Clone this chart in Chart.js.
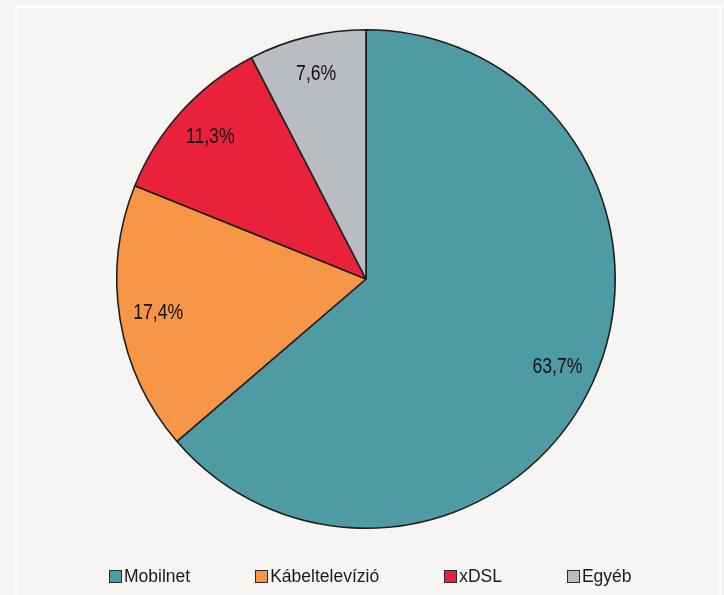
<!DOCTYPE html>
<html>
<head>
<meta charset="utf-8">
<script src="https://cdn.jsdelivr.net/npm/chart.js@4/dist/chart.umd.min.js"></script>
<style>
  html, body { margin: 0; padding: 0; }
  body { width: 724px; height: 595px; background: #f6f5f3; position: relative; overflow: hidden; }
  #frame { position: absolute; left: 15px; top: 6px; width: 702px; height: 620px; border: 2px solid #ffffff; }
  #pie { position: absolute; left: 0; top: 0; }
  #legend { position: absolute; left: 109px; top: 566px; display: flex; gap: 65px;
    font-family: "Liberation Sans", Arial, sans-serif;
    font-size: 17.5px; color: #1a1a1a; }
  #legend span.item { display: flex; align-items: center; }
  #legend span.box { display: inline-block; width: 11px; height: 11px; border: 1px solid #2a2a2a; margin-right: 2px; }
</style>
</head>
<body>
<div id="frame"></div>
<canvas id="pie" width="724" height="595"></canvas>
<div id="legend"></div>
<script>
// kategoriak es ertekek (%)
const categories = ['Mobilnet', 'Kábeltelevízió', 'xDSL', 'Egyéb'];
const shares = [63.7, 17.4, 11.3, 7.6];
const colors = ['#4e9ba3', '#f79646', '#e9213b', '#b9bcc1'];

// a cimkek keskeny Arial-szeruek: Liberation Sans vizszintesen osszenyomva
const labelFont = '21.5px "Liberation Sans", Arial, sans-serif';
const narrow = 0.82;

// szazalek cimkek a szeleteken belul
const sliceLabels = {
  id: 'sliceLabels',
  afterDatasetsDraw(chart) {
    const ctx = chart.ctx;
    const meta = chart.getDatasetMeta(0);
    meta.data.forEach(function(arc, i) {
      const p = arc.getProps(['x', 'y', 'startAngle', 'endAngle', 'outerRadius']);
      const mid = (p.startAngle + p.endAngle) / 2;
      const r = p.outerRadius * 0.845;
      const txt = shares[i].toFixed(1).replace('.', ',') + '%';
      const x = p.x + Math.cos(mid) * r;
      const y = p.y + Math.sin(mid) * r;
      ctx.save();
      ctx.font = labelFont;
      ctx.fillStyle = '#111';
      ctx.textAlign = 'center';
      ctx.textBaseline = 'middle';
      ctx.translate(x, y);
      ctx.scale(narrow, 1);
      ctx.fillText(txt, 0, 0);
      ctx.restore();
    });
  }
};

const ctx = document.getElementById('pie');
const chart = new Chart(ctx, {
  type: 'pie',
  data: {
    labels: categories,
    datasets: [{
      data: shares,
      backgroundColor: colors,
      borderColor: '#1f1f1f',
      borderWidth: 1.6
    }]
  },
  options: {
    responsive: false,
    animation: false,
    layout: { padding: { left: 116, right: 108, top: 29, bottom: 66 } },
    plugins: {
      legend: { display: false },
      tooltip: { enabled: false }
    }
  },
  plugins: [sliceLabels]
});

// jelmagyarazat
const legend = document.getElementById('legend');
categories.forEach(function(name, i) {
  const item = document.createElement('span');
  item.className = 'item';
  const box = document.createElement('span');
  box.className = 'box';
  box.style.background = colors[i];
  item.appendChild(box);
  item.appendChild(document.createTextNode(name));
  legend.appendChild(item);
});
</script>
</body>
</html>
